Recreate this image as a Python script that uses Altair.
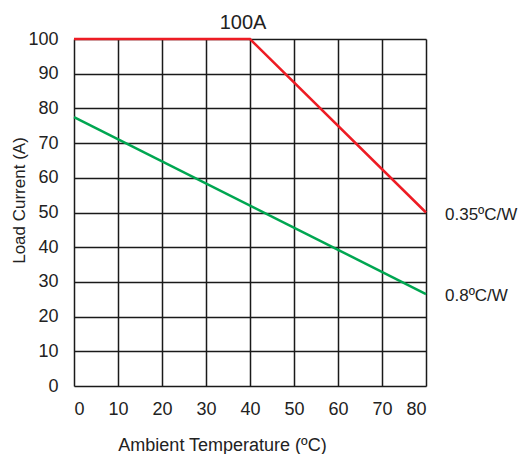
import altair as alt
import pandas as pd

# Data
red_x = [0, 40, 80]
red_y = [100, 100, 50]
green_x = [0, 80]
green_y = [77.5, 26.5]
series_labels = ["0.35ºC/W", "0.8ºC/W"]
label_y = [50, 26.5]
label_x = [80, 80]
x_ticks = [0, 10, 20, 30, 40, 50, 60, 70, 80]
y_ticks = [0, 10, 20, 30, 40, 50, 60, 70, 80, 90, 100]

RED = "#ED1C24"
GREEN = "#00A651"

lines_df = pd.DataFrame(
    {"x": red_x + green_x,
     "y": red_y + green_y,
     "s": ["0.35ºC/W"] * len(red_x) + ["0.8ºC/W"] * len(green_x)}
)
labels_df = pd.DataFrame({"x": label_x, "y": label_y, "s": series_labels})

xscale = alt.Scale(domain=[0, 80], nice=False, zero=False)
yscale = alt.Scale(domain=[0, 100], nice=False, zero=False)

x_axis = alt.Axis(
    values=x_ticks, title="Ambient Temperature (ºC)", ticks=False, domain=False,
    gridColor="#1a1a1a", gridWidth=1.5, gridOpacity=1, labelOverlap=False,
    labelFontSize=18, labelPadding=14, labelColor="#222222",
    titleFontSize=18, titleFontWeight="normal", titleColor="#222222",
    titleX=148, titleY=59, titleBaseline="middle", titleAnchor="middle",
)
y_axis = alt.Axis(
    values=y_ticks, title="Load Current (A)", ticks=False, domain=False,
    gridColor="#1a1a1a", gridWidth=1.5, gridOpacity=1, labelOverlap=False,
    labelFontSize=18, labelPadding=16, labelColor="#222222",
    titleFontSize=17, titleFontWeight="normal", titleColor="#222222",
    titleX=-55, titleY=161, titleBaseline="middle", titleAngle=-90, titleAlign="center",
)

lines = alt.Chart(lines_df).mark_line(strokeWidth=2.5, clip=False).encode(
    x=alt.X("x:Q", scale=xscale, axis=x_axis),
    y=alt.Y("y:Q", scale=yscale, axis=y_axis),
    color=alt.Color("s:N", scale=alt.Scale(domain=series_labels, range=[RED, GREEN]), legend=None),
    detail="s:N",
)

labels = alt.Chart(labels_df).mark_text(
    align="left", baseline="middle", dx=19, dy=2, fontSize=17, color="#222222"
).encode(
    x=alt.X("x:Q", scale=xscale, axis=x_axis),
    y=alt.Y("y:Q", scale=yscale, axis=y_axis),
    text="s:N",
)

chart = alt.layer(lines, labels).properties(
    width=352,
    height=347,
    title=alt.TitleParams(
        "100A", fontSize=20, fontWeight="normal", color="#222222",
        anchor="middle", dx=-7, offset=-3,
    ),
    padding={"left": 66, "top": 31, "right": 92, "bottom": 68},
    autosize=alt.AutoSizeParams(type="none"),
).configure_view(
    stroke="#1a1a1a", strokeWidth=1.5
).configure(font="Liberation Sans")

chart.save("out.html", embed_options={"renderer": "svg", "actions": False})
